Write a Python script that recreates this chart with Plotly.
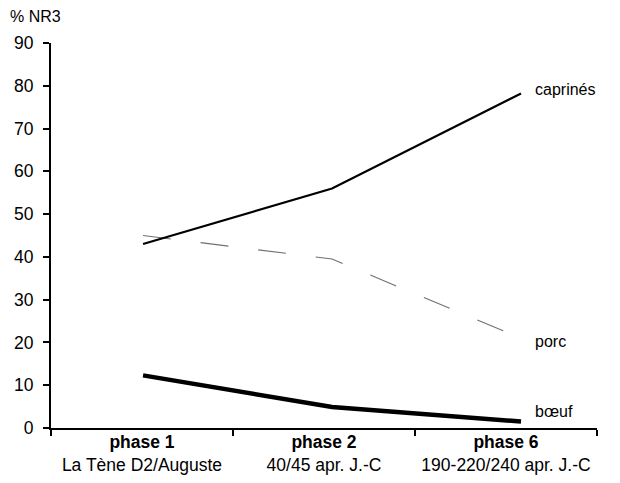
import plotly.graph_objects as go

# categories (phases) and their period labels
phases = ["phase 1", "phase 2", "phase 6"]
periods = ["La Tène D2/Auguste", "40/45 apr. J.-C", "190-220/240 apr. J.-C"]

# % NR3 per taxon
caprines = [43, 56, 78.2]
porc = [45, 39.5, 21]
boeuf = [12.3, 4.9, 1.5]

x_pos = [0, 1, 2]

FONT = "Liberation Sans, Arial, sans-serif"

fig = go.Figure()

# invisible trace to hold the category axis
fig.add_trace(go.Scatter(x=phases, y=[None] * 3, xaxis="x", yaxis="y",
                         showlegend=False, hoverinfo="skip"))

fig.add_trace(go.Scatter(x=x_pos, y=porc, xaxis="x2", mode="lines",
                         line=dict(color="#707070", width=1.1, dash="28px,30px"),
                         showlegend=False))
fig.add_trace(go.Scatter(x=x_pos, y=caprines, xaxis="x2", mode="lines",
                         line=dict(color="black", width=2.2), showlegend=False))
fig.add_trace(go.Scatter(x=x_pos, y=boeuf, xaxis="x2", mode="lines",
                         line=dict(color="black", width=4.5), showlegend=False))

# series labels next to the line ends
labels = [("caprinés", caprines[-1]), ("porc", porc[-1]), ("bœuf", boeuf[-1])]
offsets = [4, -3, 10]
for (txt, val), off in zip(labels, offsets):
    fig.add_annotation(x=2, y=val, xref="x2", yref="y", text=txt, showarrow=False,
                       xanchor="left", xshift=12, yshift=off,
                       font=dict(family=FONT, size=16, color="black"))

fig.add_annotation(x=0, y=1, xref="paper", yref="paper", text="% NR3",
                   showarrow=False, xanchor="center", yanchor="bottom",
                   xshift=-16, yshift=16, font=dict(family=FONT, size=16, color="black"))

ticktext = [f"<b>{p}</b><br>{d}" for p, d in zip(phases, periods)]

# the page body adds an 8px offset, margins are shifted to compensate
fig.update_layout(
    width=620, height=483,
    margin=dict(l=43, r=31, t=35, b=63, autoexpand=False),
    paper_bgcolor="white", plot_bgcolor="white",
    font=dict(family=FONT, size=16, color="black"),
    xaxis=dict(type="category", range=[-0.5, 2.5], tickvals=phases, ticktext=ticktext,
               tickson="boundaries", ticks="outside", ticklen=6, tickwidth=2,
               tickcolor="black", showline=True, linecolor="black", linewidth=2,
               showgrid=False, zeroline=False, tickfont=dict(size=17.5),
               automargin=False, ticklabelstandoff=-3),
    xaxis2=dict(overlaying="x", range=[-0.487, 2.402], visible=False),
    yaxis=dict(range=[0, 90], dtick=10, ticks="outside", ticklen=6, tickwidth=2,
               tickcolor="black", showline=True, linecolor="black", linewidth=2,
               showgrid=False, zeroline=False, tickfont=dict(size=17.5),
               automargin=False, ticklabelstandoff=6),
)

fig.write_html("out.html")
